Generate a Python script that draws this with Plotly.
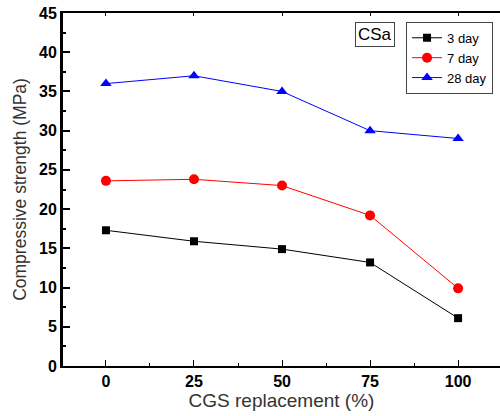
import plotly.graph_objects as go

x_vals = [0, 25, 50, 75, 100]
day3 = [17.3, 15.9, 14.9, 13.2, 6.1]
day7 = [23.6, 23.8, 23.0, 19.2, 9.9]
day28 = [36.0, 37.0, 35.0, 30.0, 29.0]
series_names = ["3 day", "7 day", "28 day"]
x_ticks = [0, 25, 50, 75, 100]
y_ticks = [0, 5, 10, 15, 20, 25, 30, 35, 40, 45]

fig = go.Figure()
styles = [("black", "square", 8), ("red", "circle", 10), ("blue", "triangle-up", 10)]
for name, ys, (c, sym, sz) in zip(series_names, [day3, day7, day28], styles):
    fig.add_trace(go.Scatter(x=x_vals, y=ys, name=name, mode="lines+markers",
                             line=dict(color=c, width=1),
                             marker=dict(symbol=sym, size=sz, color=c)))

fig.update_layout(
    width=500, height=416,
    margin=dict(l=63, r=0, t=13, b=50),
    paper_bgcolor="white", plot_bgcolor="white",
    font=dict(family="Liberation Sans"),
    xaxis=dict(range=[-12.2, 111.9], tickvals=x_ticks, ticks="inside", ticklen=6,
               tickcolor="black", showline=True, linecolor="black", linewidth=2,
               showgrid=False, zeroline=False,
               tickfont=dict(family="Liberation Sans", size=16, color="black", weight="bold"),
               minor=dict(dtick=12.5, tick0=12.5, ticks="inside", ticklen=3, tickcolor="black"),
               title=dict(text="CGS replacement (%)", font=dict(size=19, color="#333"), standoff=4)),
    xaxis2=dict(range=[-12.2, 111.9], overlaying="x", side="top", tickvals=x_ticks,
                ticks="inside", ticklen=3, tickcolor="black", showline=True,
                linecolor="black", linewidth=2, showticklabels=False, showgrid=False,
                zeroline=False),
    yaxis=dict(range=[0, 45], tickvals=y_ticks, ticks="inside", ticklen=7,
               tickcolor="black", tickwidth=2, showline=True, linecolor="black", linewidth=3,
               showgrid=False, zeroline=False,
               tickfont=dict(family="Liberation Sans", size=16, color="black", weight="bold"),
               minor=dict(dtick=2.5, ticks="inside", ticklen=3, tickcolor="black"),
               title=dict(text="Compressive strength (MPa)", font=dict(size=17.5, color="#333"), standoff=8)),
    legend=dict(x=0.785, y=0.975, xanchor="left", yanchor="top",
                bordercolor="#444", borderwidth=1, bgcolor="white",
                font=dict(family="Liberation Sans", size=13, color="black"),
                tracegroupgap=0, itemwidth=30),
    showlegend=True,
)
fig.add_trace(go.Scatter(x=[None], y=[None], xaxis="x2", showlegend=False))
fig.add_annotation(text="CSa", xref="paper", yref="paper", x=0.668, y=0.975,
                   xanchor="left", yanchor="top", showarrow=False,
                   font=dict(family="Liberation Sans", size=17, color="black"),
                   bordercolor="#444", borderwidth=1, borderpad=2, bgcolor="white")
fig.write_html("out.html")
